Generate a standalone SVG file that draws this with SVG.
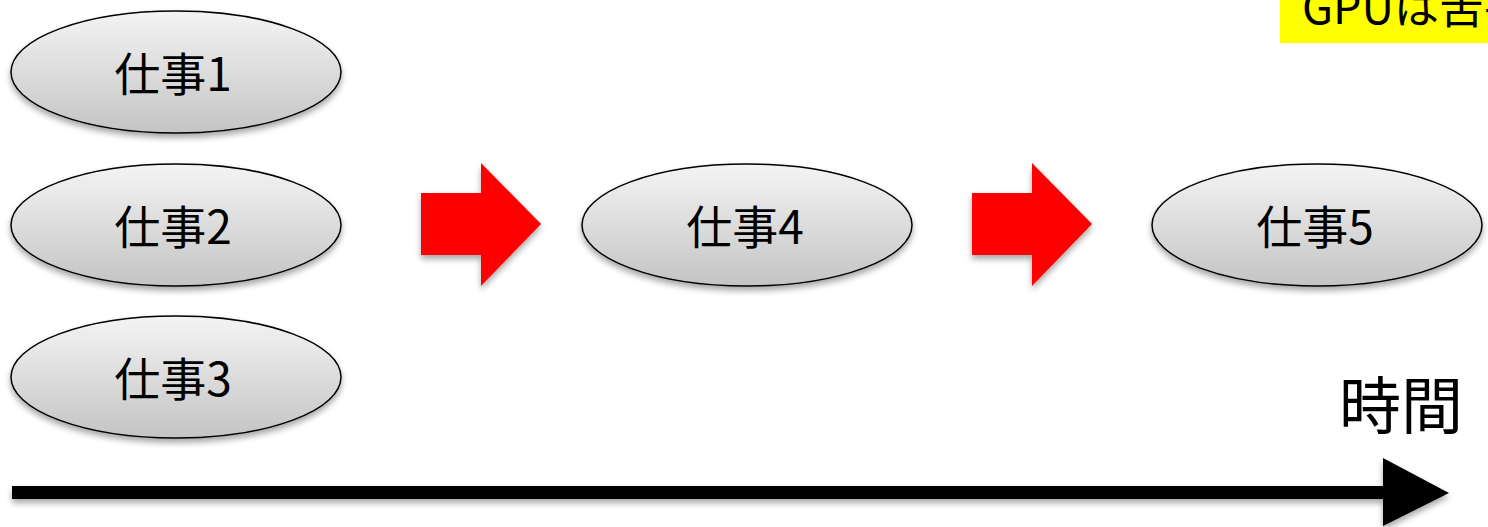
<svg xmlns="http://www.w3.org/2000/svg" width="1488" height="527" viewBox="0 0 1488 527">
<defs>
<linearGradient id="eg" x1="0" y1="0" x2="0" y2="1">
<stop offset="0" stop-color="#f4f4f4"/>
<stop offset="1" stop-color="#c4c4c4"/>
</linearGradient>
<filter id="sh" x="-10%" y="-10%" width="120%" height="140%">
<feGaussianBlur in="SourceAlpha" stdDeviation="3"/>
<feOffset dx="0" dy="4" result="b"/>
<feComponentTransfer><feFuncA type="linear" slope="0.35"/></feComponentTransfer>
<feMerge><feMergeNode/><feMergeNode in="SourceGraphic"/></feMerge>
</filter>
</defs>
<style>
.node ellipse{fill:url(#eg);stroke:#000;stroke-width:1.5;filter:url(#sh)}
.lbl{font-family:"Noto Sans CJK JP","Liberation Sans",sans-serif;font-size:46px;fill:#000;text-anchor:middle}
.red{fill:#ff0000;filter:url(#sh)}
</style>
<rect x="1280" y="0" width="208" height="43" fill="#ffff00"/>
<text x="1302" y="24" font-family="'Noto Sans CJK JP','Liberation Sans',sans-serif" font-size="45" fill="#000">GPUは苦手</text>
<g id="n1" class="node"><ellipse cx="176" cy="72" rx="165" ry="61"/><text class="lbl" x="173" y="91">仕事1</text></g>
<g id="n2" class="node"><ellipse cx="176" cy="225" rx="165" ry="61"/><text class="lbl" x="173" y="244">仕事2</text></g>
<g id="n3" class="node"><ellipse cx="176" cy="377" rx="165" ry="61"/><text class="lbl" x="173" y="396">仕事3</text></g>
<g id="n4" class="node"><ellipse cx="747" cy="225" rx="165" ry="61"/><text class="lbl" x="745" y="244">仕事4</text></g>
<g id="n5" class="node"><ellipse cx="1317" cy="225" rx="165" ry="61"/><text class="lbl" x="1315" y="244">仕事5</text></g>
<g id="connectors">
<polygon class="red" points="421,193 481,193 481,163 541,224 481,286 481,255 421,255"/>
<polygon class="red" points="972,193 1032,193 1032,163 1092,224 1032,286 1032,255 972,255"/>
<g filter="url(#sh)">
<rect x="12" y="486" width="1373" height="13" fill="#000"/>
<polygon points="1383,458 1449,493 1383,526" fill="#000"/>
</g>
</g>
<text x="1401" y="429" font-family="'Noto Sans CJK JP','Liberation Sans',sans-serif" font-size="62" fill="#000" text-anchor="middle">時間</text>
</svg>
